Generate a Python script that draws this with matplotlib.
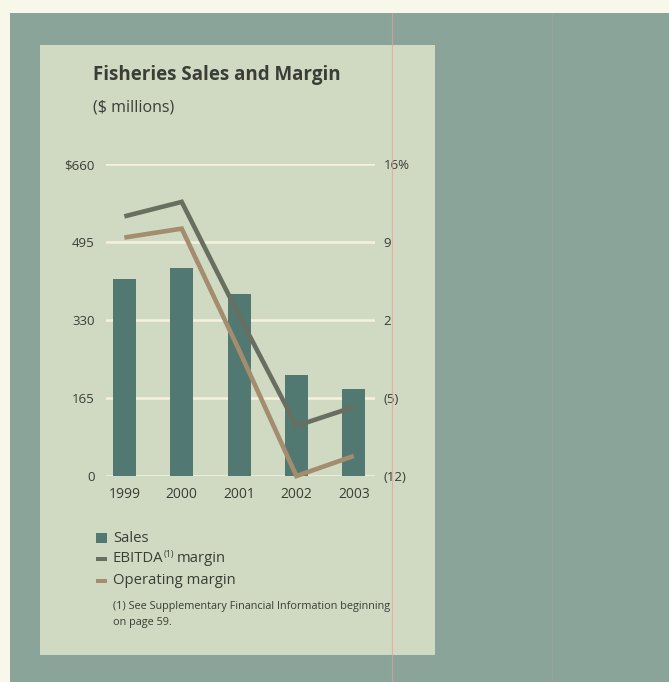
import matplotlib
matplotlib.use("Agg")
import matplotlib.pyplot as plt
from matplotlib.patches import Rectangle
from matplotlib.lines import Line2D
import numpy as np

plt.rcParams["font.family"] = ["Open Sans", "DejaVu Sans"]

# ---- data ----
years = ["1999", "2000", "2001", "2002", "2003"]
sales = [416, 439, 385, 214, 185]            # $ millions
ebitda_margin = [11.3, 12.6, 2.4, -7.5, -5.8]   # %
operating_margin = [9.4, 10.2, -0.7, -12.0, -10.2]  # %

sales_ticks = [0, 165, 330, 495, 660]
sales_ticklabels = ["0", "165", "330", "495", "$660"]
margin_ticks = [-12, -5, 2, 9, 16]
margin_ticklabels = ["(12)", "(5)", "2", "9", "16%"]

# ---- colours ----
c_cream = (248/255, 248/255, 234/255)
c_teal_bg = (139/255, 164/255, 154/255)
c_panel = (208/255, 217/255, 193/255)
c_grid = (244/255, 242/255, 222/255)
c_bar = (82/255, 120/255, 114/255)
c_ebitda = (104/255, 111/255, 97/255)
c_oper = (164/255, 140/255, 110/255)
c_text = (58/255, 62/255, 54/255)

W, H = 669, 682
fig = plt.figure(figsize=(W/100, H/100), dpi=100)
fig.patch.set_facecolor(c_cream)

def fx(x):
    return x / W

def fy(y):
    return 1 - y / H

# page background and chart panel
fig.patches.append(Rectangle((fx(10), 0), fx(W - 10), 1 - 13/H, transform=fig.transFigure,
                             facecolor=c_teal_bg, edgecolor="none", zorder=0))
fig.patches.append(Rectangle((fx(40), fy(655)), fx(395), 610/H, transform=fig.transFigure,
                             facecolor=c_panel, edgecolor="none", zorder=1))
# faint registration lines
fig.lines.append(Line2D([fx(392), fx(392)], [0, fy(13)], transform=fig.transFigure,
                        color=(232/255, 160/255, 150/255), lw=0.8, alpha=0.7, zorder=20))
fig.lines.append(Line2D([fx(552), fx(552)], [0, fy(13)], transform=fig.transFigure,
                        color=(200/255, 160/255, 150/255), lw=0.6, alpha=0.35, zorder=20))

# ---- axes ----
ax = fig.add_axes([fx(106), fy(476), fx(269), 312/H])
ax.set_zorder(5)
ax.set_facecolor("none")
x = np.arange(len(years))
ax.set_xlim(-0.32, 4.37)
ax.set_ylim(0, 660)
for v in sales_ticks:
    ax.axhline(v, color=c_grid, lw=1.8, zorder=0)
ax.bar(x, sales, width=0.40, color=c_bar, zorder=2)
ax.set_yticks(sales_ticks)
ax.set_yticklabels(sales_ticklabels, fontsize=9.5, color=c_text)
ax.set_xticks(x)
ax.set_xticklabels(years, fontsize=10, color=c_text)
ax.tick_params(axis="y", length=0, pad=8)
ax.tick_params(axis="x", length=0, pad=8)
for s in ax.spines.values():
    s.set_visible(False)

ax2 = ax.twinx()
ax2.set_zorder(6)
ax2.set_ylim(-12, 16)
ax2.plot(x, ebitda_margin, color=c_ebitda, lw=3.3, solid_capstyle="butt",
         solid_joinstyle="miter", clip_on=False, zorder=3)
ax2.plot(x, operating_margin, color=c_oper, lw=3.3, solid_capstyle="butt",
         solid_joinstyle="miter", clip_on=False, zorder=3)
ax2.set_yticks(margin_ticks)
ax2.set_yticklabels(margin_ticklabels, fontsize=9.5, color=c_text)
ax2.tick_params(axis="y", length=0, pad=6)
for s in ax2.spines.values():
    s.set_visible(False)

# ---- titles ----
fig.text(fx(93), fy(75), "Fisheries Sales and Margin", fontsize=13.5, fontweight="bold",
         color=c_text, va="center", ha="left")
fig.text(fx(93), fy(108), "($ millions)", fontsize=11.5, color=c_text, va="center", ha="left")

# ---- legend ----
fig.patches.append(Rectangle((fx(96), fy(543)), fx(11), 10/H, transform=fig.transFigure,
                             facecolor=c_bar, edgecolor="none", zorder=3))
fig.patches.append(Rectangle((fx(96), fy(561)), fx(11), 4/H, transform=fig.transFigure,
                             facecolor=c_ebitda, edgecolor="none", zorder=3))
fig.patches.append(Rectangle((fx(96), fy(583)), fx(11), 4/H, transform=fig.transFigure,
                             facecolor=c_oper, edgecolor="none", zorder=3))

fig.text(fx(113), fy(538), "Sales", fontsize=10.7, color=c_text, va="center")
t1 = fig.text(fx(113), fy(559), "EBITDA", fontsize=10.7, color=c_text, va="center")
renderer = fig.canvas.get_renderer()
bb = t1.get_window_extent(renderer)
# superscript footnote marker right after the word
t2 = fig.text(bb.x1 / W + fx(0.5), fy(555), "(1)", fontsize=6.5, color=c_text, va="center")
bb2 = t2.get_window_extent(renderer)
fig.text(bb2.x1 / W + fx(2), fy(559), "margin", fontsize=10.7, color=c_text, va="center")
fig.text(fx(113), fy(580), "Operating margin", fontsize=10.7, color=c_text, va="center")

fig.text(fx(113), fy(607), "(1) See Supplementary Financial Information beginning",
         fontsize=7.8, color=c_text, va="center")
fig.text(fx(113), fy(622), "on page 59.", fontsize=7.8, color=c_text, va="center")

fig.savefig("out.png", dpi=100, facecolor=fig.get_facecolor())
